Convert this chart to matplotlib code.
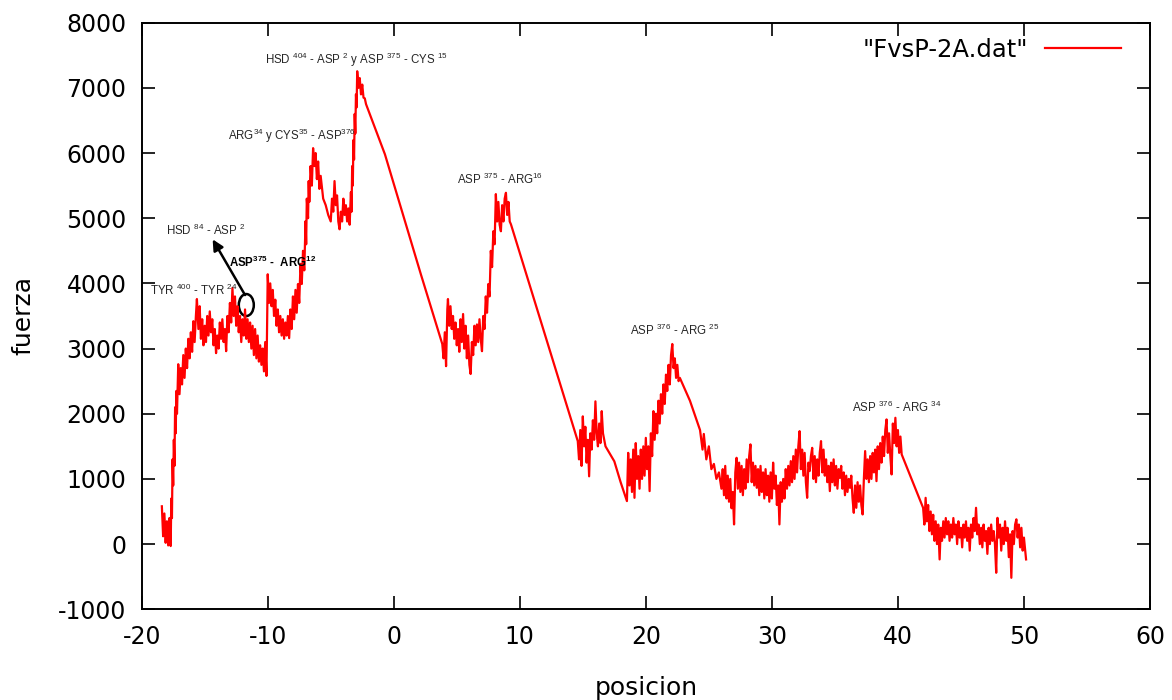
import matplotlib

matplotlib.use("Agg")
import matplotlib.pyplot as plt
import numpy as np
from matplotlib.patches import Ellipse

plt.rcParams["font.family"] = ["DejaVu Sans"]
plt.rcParams["axes.unicode_minus"] = False
plt.rcParams["mathtext.fontset"] = "custom"
plt.rcParams["mathtext.rm"] = "Liberation Sans"
plt.rcParams["mathtext.bf"] = "Liberation Sans:bold"
plt.rcParams["mathtext.default"] = "regular"

# --- datos leidos de la curva FvsP-2A.dat, por tramos ---
# subida inicial
pos_ini = [-18.4, -18.3, -18.2, -18.1, -18.0, -17.9, -17.8, -17.75, -17.7, -17.65,
           -17.6, -17.55, -17.5, -17.45, -17.4, -17.35, -17.3, -17.25, -17.2, -17.1,
           -17.0, -16.9, -16.8, -16.7, -16.6, -16.5, -16.4, -16.3, -16.2, -16.1,
           -16.0, -15.9, -15.8, -15.7, -15.62]
fza_ini = [580, 120, 470, 20, 350, -20, 400, 150, -30, 700,
           400, 1300, 900, 1600, 1200, 2100, 1700, 2350, 2000, 2760,
           2300, 2700, 2450, 2900, 2550, 3000, 2700, 3150, 2850, 3250,
           2950, 3420, 3100, 3500, 3760]

# meseta TYR400-TYR24 / ASP375-ARG12
pos_mes = [-15.5, -15.4, -15.3, -15.2, -15.1, -15.0, -14.9, -14.8, -14.7, -14.6,
           -14.5, -14.4, -14.3, -14.2, -14.1, -14.0, -13.9, -13.8, -13.7, -13.6,
           -13.5, -13.4, -13.3, -13.2, -13.1, -13.0, -12.9, -12.8, -12.7, -12.6,
           -12.5, -12.4, -12.3, -12.2, -12.1, -12.0, -11.9, -11.8, -11.7, -11.6,
           -11.5, -11.4, -11.3, -11.2, -11.1, -11.0, -10.9, -10.8, -10.7, -10.6,
           -10.5, -10.4, -10.3, -10.2, -10.1, -10.0, -9.9, -9.8, -9.7, -9.6,
           -9.5, -9.4, -9.3, -9.2, -9.1, -9.0, -8.9, -8.8, -8.7, -8.6,
           -8.5, -8.4, -8.3, -8.2, -8.1, -8.0, -7.9, -7.8, -7.7, -7.6,
           -7.5, -7.4]
fza_mes = [3300, 3650, 3150, 3450, 3050, 3350, 3100, 3500, 3200, 3570,
           3250, 3450, 3050, 3300, 2930, 3200, 3000, 3400, 3150, 3450,
           3100, 3300, 2960, 3500, 3250, 3700, 3400, 3930, 3500, 3800,
           3350, 3650, 3250, 3500, 3100, 3450, 3200, 3600, 3150, 3450,
           3100, 3400, 3000, 3350, 2900, 3300, 2850, 3200, 2800, 3050,
           2750, 3000, 2650, 3100, 2580, 4140, 3700, 4000, 3650, 3900,
           3500, 3750, 3350, 3600, 3250, 3500, 3200, 3450, 3150, 3400,
           3200, 3500, 3160, 3600, 3300, 3800, 3450, 3900, 3550, 3990,
           3700, 4300]

# picos ARG34/CYS35 y HSD404
pos_pic = [-7.3, -7.2, -7.1, -7.0, -6.95, -6.9, -6.8, -6.75, -6.7, -6.6,
           -6.5, -6.4, -6.3, -6.2, -6.1, -6.0, -5.9, -5.8, -5.6, -5.4,
           -5.2, -5.0, -4.9, -4.8, -4.7, -4.6, -4.5, -4.4, -4.3, -4.2,
           -4.1, -4.0, -3.9, -3.8, -3.7, -3.6, -3.5, -3.4, -3.35, -3.3,
           -3.25, -3.2, -3.15, -3.1, -3.05, -3.0, -2.95, -2.9, -2.8, -2.7,
           -2.6, -2.5, -2.4, -2.3]
fza_pic = [3990, 4500, 4200, 4955, 4600, 5300, 5000, 5570, 5250, 5800,
           5500, 6075, 5800, 6000, 5600, 5870, 5450, 5650, 5300, 5200,
           5050, 4950, 5300, 5100, 5570, 5200, 5350, 4950, 4830, 5100,
           4950, 5300, 5050, 5200, 4950, 5150, 4900, 5400, 5100, 5800,
           5500, 6200, 5900, 6600, 6300, 6900, 6700, 7255, 7000, 7150,
           6900, 7050, 6850, 6840]

# primera caida
pos_b1 = [-2.2, -0.7, 2.15]
fza_b1 = [6750, 5980, 4140]

# valle y pico ASP375-ARG16
pos_val = [3.85, 3.95, 4.05, 4.15, 4.25, 4.3, 4.4, 4.5, 4.6, 4.7,
           4.8, 4.9, 5.0, 5.1, 5.2, 5.3, 5.4, 5.5, 5.6, 5.7,
           5.8, 5.9, 6.0, 6.1, 6.2, 6.3, 6.4, 6.5, 6.6, 6.7,
           6.8, 6.9, 7.0, 7.1, 7.2, 7.3, 7.4, 7.5, 7.6, 7.7,
           7.8, 7.9, 8.0, 8.1, 8.2, 8.3, 8.4, 8.5, 8.6, 8.7,
           8.8, 8.9, 9.0, 9.1, 9.2, 9.3]
fza_val = [3070, 2850, 3250, 2730, 3600, 3760, 3350, 3650, 3300, 3500,
           3150, 3400, 3050, 3300, 2950, 3450, 3100, 3530, 3000, 3350,
           2850, 3200, 2750, 2610, 3100, 2900, 3350, 3050, 3370, 3100,
           3450, 3150, 2960, 3500, 3300, 3800, 3550, 3990, 3800, 4500,
           4250, 4800, 4600, 5370, 4950, 5250, 4900, 4800, 5200, 4950,
           5300, 5390, 5050, 5250, 4950, 4905]

# escalon en ~15
pos_m2 = [14.6, 14.7, 14.8, 14.9, 15.0, 15.1, 15.2, 15.3, 15.4, 15.5,
          15.6, 15.7, 15.8, 15.9, 16.0, 16.1, 16.2, 16.3, 16.4, 16.5,
          16.6, 16.8, 17.5, 18.0]
fza_m2 = [1580, 1300, 1750, 1200, 1960, 1500, 1800, 1250, 1600, 1040,
          1700, 1450, 1900, 1600, 2190, 1700, 1500, 1850, 1550, 2040,
          1700, 1500, 1270, 950]

# pico ASP376-ARG25
pos_p3 = [18.5, 18.6, 18.7, 18.8, 18.9, 19.0, 19.1, 19.2, 19.3, 19.4,
          19.5, 19.6, 19.7, 19.8, 19.9, 20.0, 20.1, 20.2, 20.3, 20.4,
          20.5, 20.6, 20.7, 20.8, 20.9, 21.0, 21.1, 21.2, 21.3, 21.4,
          21.5, 21.6, 21.7, 21.8, 21.9, 22.0, 22.1, 22.2, 22.3, 22.4,
          22.5, 22.6, 22.7]
fza_p3 = [660, 1400, 900, 1300, 800, 1450, 710, 1550, 1000, 1350,
          850, 1450, 1000, 1500, 1050, 1630, 1150, 1500, 813, 1700,
          1350, 2040, 1600, 2000, 1700, 2200, 1850, 2300, 2000, 2450,
          2150, 2600, 2350, 2750, 2450, 2900, 3070, 2700, 2850, 2550,
          2750, 2500, 2550]

# caida tras ARG25
pos_b3 = [23.5, 24.3, 24.5, 24.6, 24.8, 25.0, 25.2, 25.4, 25.6, 25.8]
fza_b3 = [2200, 1750, 1450, 1690, 1300, 1500, 1150, 1230, 1000, 1100]

# banda ~1000 y pico ASP376-ARG34
pos_ban = [26.0, 26.1, 26.2, 26.3, 26.4, 26.5, 26.6, 26.7, 26.8, 26.9,
           27.0, 27.1, 27.2, 27.3, 27.4, 27.5, 27.6, 27.7, 27.8, 27.9,
           28.0, 28.1, 28.2, 28.3, 28.4, 28.5, 28.6, 28.7, 28.8, 28.9,
           29.0, 29.1, 29.2, 29.3, 29.4, 29.5, 29.6, 29.7, 29.8, 29.9,
           30.0, 30.1, 30.2, 30.3, 30.4, 30.5, 30.6, 30.7, 30.8, 30.9,
           31.0, 31.1, 31.2, 31.3, 31.4, 31.5, 31.6, 31.7, 31.8, 31.9,
           32.0, 32.1, 32.2, 32.3, 32.4, 32.5, 32.6, 32.7, 32.8, 32.9,
           33.0, 33.1, 33.2, 33.3, 33.4, 33.5, 33.6, 33.7, 33.8, 33.9,
           34.0, 34.1, 34.2, 34.3, 34.4, 34.5, 34.6, 34.7, 34.8, 34.9,
           35.0, 35.1, 35.2, 35.3, 35.4, 35.5, 35.6, 35.7, 35.8, 35.9,
           36.0, 36.1, 36.2, 36.3, 36.4, 36.5, 36.6, 36.7, 36.8, 36.9,
           37.0, 37.1, 37.2, 37.3, 37.4, 37.5, 37.6, 37.7, 37.8, 37.9,
           38.0, 38.1, 38.2, 38.3, 38.4, 38.5, 38.6, 38.7, 38.8, 38.9,
           39.0, 39.1, 39.2, 39.3, 39.4, 39.5, 39.6, 39.7, 39.8, 39.9,
           40.0, 40.1, 40.2, 40.3]
fza_ban = [850, 1150, 750, 1200, 700, 1050, 650, 1000, 550, 800,
           302, 1100, 1324, 850, 1250, 800, 1200, 750, 1150, 850,
           1300, 950, 1350, 1530, 950, 1250, 900, 1200, 864, 1150,
           750, 1200, 800, 1100, 700, 1150, 750, 1050, 650, 1100,
           700, 1250, 850, 1050, 600, 900, 302, 950, 650, 1000,
           700, 1150, 850, 1200, 900, 1273, 950, 1350, 1000, 1450,
           1100, 1500, 1733, 1150, 1450, 1050, 1400, 950, 710, 1250,
           1120, 1350, 1477, 1000, 1350, 950, 1300, 1050, 1400, 1580,
           1100, 1450, 1050, 1300, 950, 1200, 813, 1250, 950, 1300,
           900, 1200, 850, 1150, 1017, 1200, 850, 1100, 750, 1050,
           800, 1000, 864, 1050, 700, 480, 900, 557, 950, 650,
           900, 600, 455, 1000, 1427, 1000, 1300, 950, 1350, 1000,
           1400, 1100, 1450, 966, 1500, 1150, 1550, 1250, 1650, 1350,
           1750, 1913, 1400, 1700, 1350, 1069, 1850, 1550, 1938, 1500,
           1750, 1400, 1650, 1376]

# cola final
pos_col = [42.0, 42.1, 42.2, 42.3, 42.4, 42.5, 42.6, 42.7, 42.8, 42.9,
           43.0, 43.1, 43.2, 43.31, 43.4, 43.5, 43.6, 43.7, 43.8, 43.9,
           44.0, 44.1, 44.2, 44.3, 44.4, 44.5, 44.6, 44.7, 44.8, 44.9,
           45.0, 45.1, 45.2, 45.3, 45.4, 45.5, 45.6, 45.7, 45.8, 45.9,
           46.0, 46.1, 46.2, 46.3, 46.4, 46.5, 46.6, 46.7, 46.8, 46.9,
           47.0, 47.1, 47.2, 47.3, 47.4, 47.5, 47.6, 47.7, 47.8, 47.9,
           48.0, 48.1, 48.2, 48.3, 48.4, 48.5, 48.6, 48.7, 48.8, 48.9,
           49.0, 49.1, 49.2, 49.3, 49.4, 49.5, 49.6, 49.7, 49.8, 49.9,
           50.0, 50.17]
fza_col = [557, 300, 710, 350, 600, 200, 500, 150, 450, 50,
           350, 0, 300, -235, 250, 50, 350, 100, 400, 150,
           350, 50, 300, 100, 400, 150, 300, 0, 350, 100,
           250, -50, 300, 100, 350, 50, 250, -100, 300, 100,
           400, 200, 557, 150, 300, 0, 250, -50, 300, 50,
           200, -150, 250, 0, 300, 50, 200, 0, -440, 403,
           100, 300, -100, 250, 0, 350, 50, 250, -200, 150,
           -517, 200, 0, 300, 380, 100, 300, -50, 250, -100,
           100, -235]

# anotaciones de los puentes salinos
etiquetas = [
    "TYR $^{400}$ - TYR $^{24}$",
    "HSD $^{84}$ - ASP $^{2}$",
    "ASP$^{375}$ -  ARG$^{12}$",
    "ARG$^{34}$ y CYS$^{35}$ - ASP$^{376}$",
    "HSD $^{404}$ - ASP $^{2}$ y ASP $^{375}$ - CYS $^{15}$",
    "ASP $^{375}$ - ARG$^{16}$",
    "ASP $^{376}$ - ARG $^{25}$",
    "ASP $^{376}$ - ARG $^{34}$",
]
etq_x = [-15.85, -14.9, -9.58, -8.07, -3.0, 8.43, 22.3, 39.92]
etq_y = [3898, 4818, 4327, 6260, 7426, 5600, 3285, 2103]
etq_bold = [False, False, True, False, False, False, False, False]


def main():
    pos = np.concatenate([pos_ini, pos_mes, pos_pic, pos_b1, pos_val,
                          pos_m2, pos_p3, pos_b3, pos_ban, pos_col])
    fza = np.concatenate([fza_ini, fza_mes, fza_pic, fza_b1, fza_val,
                          fza_m2, fza_p3, fza_b3, fza_ban, fza_col])

    fig = plt.figure(figsize=(11.72, 7.0), dpi=100)
    ax = fig.add_axes([0.1209, 0.1296, 0.8603, 0.838])

    ax.plot(pos, fza, color="#ff0000", lw=1.6, label='"FvsP-2A.dat"')

    for txt, x, y, b in zip(etiquetas, etq_x, etq_y, etq_bold):
        ax.text(x, y, txt, ha="center", va="center", fontsize=8.3,
                family="Liberation Sans", color="#000000" if b else "#262626",
                fontweight="bold" if b else "normal")

    # circulo y flecha hacia HSD84 - ASP2
    ax.add_patch(Ellipse((-11.7, 3668), 1.19, 337, fill=False, ec="black", lw=1.8))
    ax.annotate("", xy=(-14.37, 4676), xytext=(-11.8, 3821),
                arrowprops=dict(arrowstyle="-|>", color="black", lw=1.8,
                                mutation_scale=16, shrinkA=0, shrinkB=0))

    ax.set_xlim(-20, 60)
    ax.set_ylim(-1000, 8000)
    ax.set_xticks(np.arange(-20, 61, 10))
    ax.set_yticks(np.arange(-1000, 8001, 1000))
    ax.tick_params(direction="in", top=True, right=True, length=9.5, width=1.2,
                   labelsize=17)
    ax.tick_params(axis="x", pad=11)
    ax.tick_params(axis="y", pad=11)
    for sp in ax.spines.values():
        sp.set_linewidth(1.4)

    ax.set_xlabel("posicion", fontsize=18, labelpad=20)
    ax.set_ylabel("fuerza", fontsize=18, labelpad=16)

    ax.legend(loc="upper right", bbox_to_anchor=(0.971, 0.9744), frameon=False,
              markerfirst=False, handlelength=3.1, handletextpad=0.72,
              borderpad=0, borderaxespad=0, fontsize=17.5)

    fig.savefig("out.png", dpi=100)


if __name__ == "__main__":
    main()
